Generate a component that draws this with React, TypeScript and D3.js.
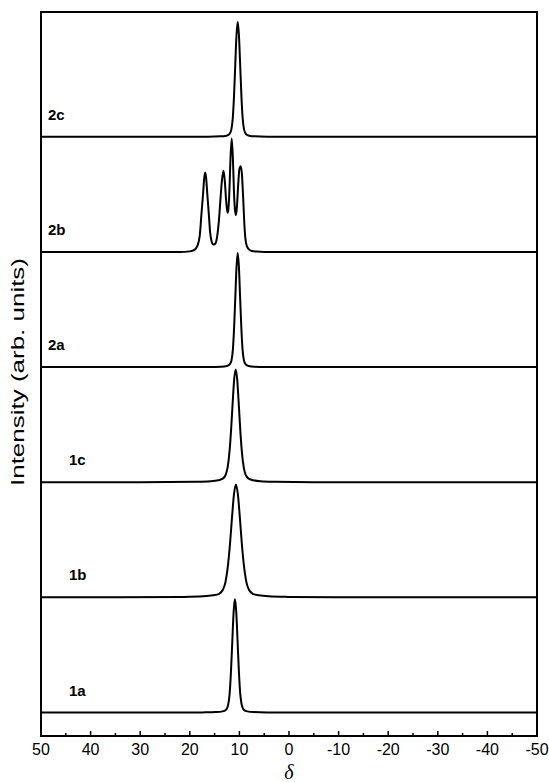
import React from "react";
import * as d3 from "d3";

// Stacked spectra, chemical shift δ vs intensity (one trace per sample).
const SAMPLE_NAMES = ["1a", "1b", "1c", "2a", "2b", "2c"];
const SAMPLE_OFFSETS = [0, 1, 2, 3, 4, 5];

// [δ, intensity] pairs per sample (intensity relative to the stacking step)
const TRACE_1A: [number, number][] = [
  [50, 0], [35, 0], [20, 0], [17.4, 0.001], [14.69, 0.004], [13.39, 0.01], [12.74, 0.022],
  [12.31, 0.059], [11.98, 0.158], [11.71, 0.345], [11.44, 0.61], [11.17, 0.87], [10.9, 0.985],
  [10.63, 0.87], [10.36, 0.61], [10.09, 0.345], [9.82, 0.158], [9.49, 0.059], [9.06, 0.022],
  [8.41, 0.01], [7.11, 0.004], [4.4, 0.001], [0, 0], [-20, 0], [-50, 0],
];
const TRACE_1B: [number, number][] = [
  [50, 0], [35, 0], [21.2, 0.004], [17.3, 0.009], [15.3, 0.018], [14.1, 0.031], [13.33, 0.066],
  [12.8, 0.135], [12.28, 0.288], [11.88, 0.472], [11.49, 0.695], [11.09, 0.896], [10.7, 0.98],
  [10.31, 0.896], [9.91, 0.695], [9.52, 0.472], [9.12, 0.288], [8.6, 0.135], [8.07, 0.066],
  [7.3, 0.031], [6.1, 0.018], [4.1, 0.009], [0.2, 0.004], [-10, 0], [-50, 0],
];
const TRACE_1C: [number, number][] = [
  [50, 0], [30, 0], [18.75, 0.004], [15.75, 0.009], [14.25, 0.018], [13.35, 0.031], [12.75, 0.066],
  [12.35, 0.135], [11.95, 0.288], [11.65, 0.472], [11.35, 0.695], [11.05, 0.896], [10.75, 0.98],
  [10.45, 0.896], [10.15, 0.695], [9.85, 0.472], [9.55, 0.288], [9.15, 0.135], [8.75, 0.066],
  [8.15, 0.031], [7.25, 0.018], [5.75, 0.009], [2.75, 0.004], [-5, 0], [-50, 0],
];
const TRACE_2A: [number, number][] = [
  [50, 0], [35, 0], [20, 0], [16.14, 0.001], [13.74, 0.004], [12.54, 0.01], [11.97, 0.022],
  [11.59, 0.06], [11.3, 0.16], [11.06, 0.35], [10.82, 0.61], [10.58, 0.87], [10.34, 0.99],
  [10.1, 0.87], [9.86, 0.61], [9.62, 0.35], [9.38, 0.16], [9.09, 0.06], [8.71, 0.022],
  [8.14, 0.01], [6.94, 0.004], [4.54, 0.001], [0, 0], [-20, 0], [-50, 0],
];
const TRACE_2B: [number, number][] = [
  [50, 0], [35, 0], [22, 0], [20, 0.005], [19, 0.02], [18.5, 0.05], [18.0, 0.14], [17.65, 0.33],
  [17.3, 0.52], [17.1, 0.64], [16.9, 0.69], [16.7, 0.64], [16.5, 0.52], [16.15, 0.32],
  [15.9, 0.17], [15.6, 0.09], [15.26, 0.064], [14.9, 0.07], [14.5, 0.13], [14.1, 0.29],
  [13.8, 0.47], [13.5, 0.63], [13.2, 0.705], [12.95, 0.62], [12.7, 0.46], [12.5, 0.37],
  [12.36, 0.34], [12.2, 0.38], [12.0, 0.55], [11.8, 0.81], [11.55, 0.985], [11.3, 0.8],
  [11.1, 0.53], [10.9, 0.37], [10.69, 0.32], [10.5, 0.39], [10.25, 0.58], [10.0, 0.72],
  [9.74, 0.745], [9.5, 0.68], [9.25, 0.48], [9.0, 0.24], [8.8, 0.12], [8.5, 0.05],
  [8.0, 0.02], [7.5, 0.008], [6.5, 0.003], [5, 0], [-20, 0], [-50, 0],
];
const TRACE_2C: [number, number][] = [
  [50, 0], [35, 0], [20, 0], [16.34, 0.001], [13.84, 0.004], [12.64, 0.01], [12.04, 0.022],
  [11.64, 0.06], [11.34, 0.16], [11.09, 0.35], [10.84, 0.62], [10.59, 0.88], [10.34, 1.0],
  [10.09, 0.88], [9.84, 0.62], [9.59, 0.35], [9.34, 0.16], [9.04, 0.06], [8.64, 0.022],
  [8.04, 0.01], [6.84, 0.004], [4.34, 0.001], [0, 0], [-20, 0], [-50, 0],
];
const TRACES = [TRACE_1A, TRACE_1B, TRACE_1C, TRACE_2A, TRACE_2B, TRACE_2C];

const MAJOR_TICKS = [50, 40, 30, 20, 10, 0, -10, -20, -30, -40, -50];
const MINOR_TICKS = [45, 35, 25, 15, 5, -5, -15, -25, -35, -45];
const TICK_LABELS = ["50", "40", "30", "20", "10", "0", "-10", "-20", "-30", "-40", "-50"];

const WIDTH = 549;
const HEIGHT = 782;
const LEFT = 41;
const RIGHT = 537;
const TOP = 12;
const BOTTOM = 736;

export default function App() {
  const x = d3.scaleLinear().domain([50, -50]).range([LEFT, RIGHT]);
  const y = d3.scaleLinear().domain([-0.204, 6.084]).range([BOTTOM, TOP]);

  const sans = "'Liberation Sans', Arial, sans-serif";

  return (
    <div style={{ position: "absolute", left: 0, top: 0 }}>
      <svg width={WIDTH} height={HEIGHT} style={{ display: "block", background: "#fff" }}>
        <defs>
          <clipPath id="plot-clip">
            <rect x={LEFT} y={TOP} width={RIGHT - LEFT} height={BOTTOM - TOP} />
          </clipPath>
        </defs>
        <g clipPath="url(#plot-clip)">
          {TRACES.map((trace, i) => {
            const off = SAMPLE_OFFSETS[i];
            const line = d3
              .line<[number, number]>()
              .x((d) => x(d[0]))
              .y((d) => y(d[1] + off))
              .curve(d3.curveMonotoneX);
            return (
              <path
                key={SAMPLE_NAMES[i]}
                d={line([...trace].reverse()) || ""}
                fill="none"
                stroke="#000"
                strokeWidth={2}
                strokeLinejoin="round"
              />
            );
          })}
        </g>

        {SAMPLE_NAMES.map((name, i) => (
          <text
            key={name}
            x={name.startsWith("1") ? 69 : 48}
            y={y(SAMPLE_OFFSETS[i]) - 17}
            fontFamily={sans}
            fontWeight="bold"
            fontSize={15}
          >
            {name}
          </text>
        ))}

        {MAJOR_TICKS.map((t) => (
          <line key={"M" + t} x1={x(t)} x2={x(t)} y1={BOTTOM} y2={BOTTOM - 5} stroke="#000" strokeWidth={1.5} />
        ))}
        {MINOR_TICKS.map((t) => (
          <line key={"m" + t} x1={x(t)} x2={x(t)} y1={BOTTOM} y2={BOTTOM - 3} stroke="#000" strokeWidth={1.5} />
        ))}
        {MAJOR_TICKS.map((t, i) => (
          <text key={"L" + t} x={x(t)} y={755} textAnchor="middle" fontFamily={sans} fontSize={16}>
            {TICK_LABELS[i]}
          </text>
        ))}

        <rect x={LEFT} y={TOP} width={RIGHT - LEFT} height={BOTTOM - TOP} fill="none" stroke="#000" strokeWidth={2} />

        <text x={(LEFT + RIGHT) / 2} y={779} textAnchor="middle" fontFamily="'Liberation Serif', serif" fontStyle="italic" fontSize={20}>
          δ
        </text>
        <text
          transform={`translate(24, 372) rotate(-90)`}
          textAnchor="middle"
          fontFamily={sans}
          fontSize={19}
          textLength={228}
          lengthAdjust="spacingAndGlyphs"
        >
          Intensity (arb. units)
        </text>
      </svg>
    </div>
  );
}
